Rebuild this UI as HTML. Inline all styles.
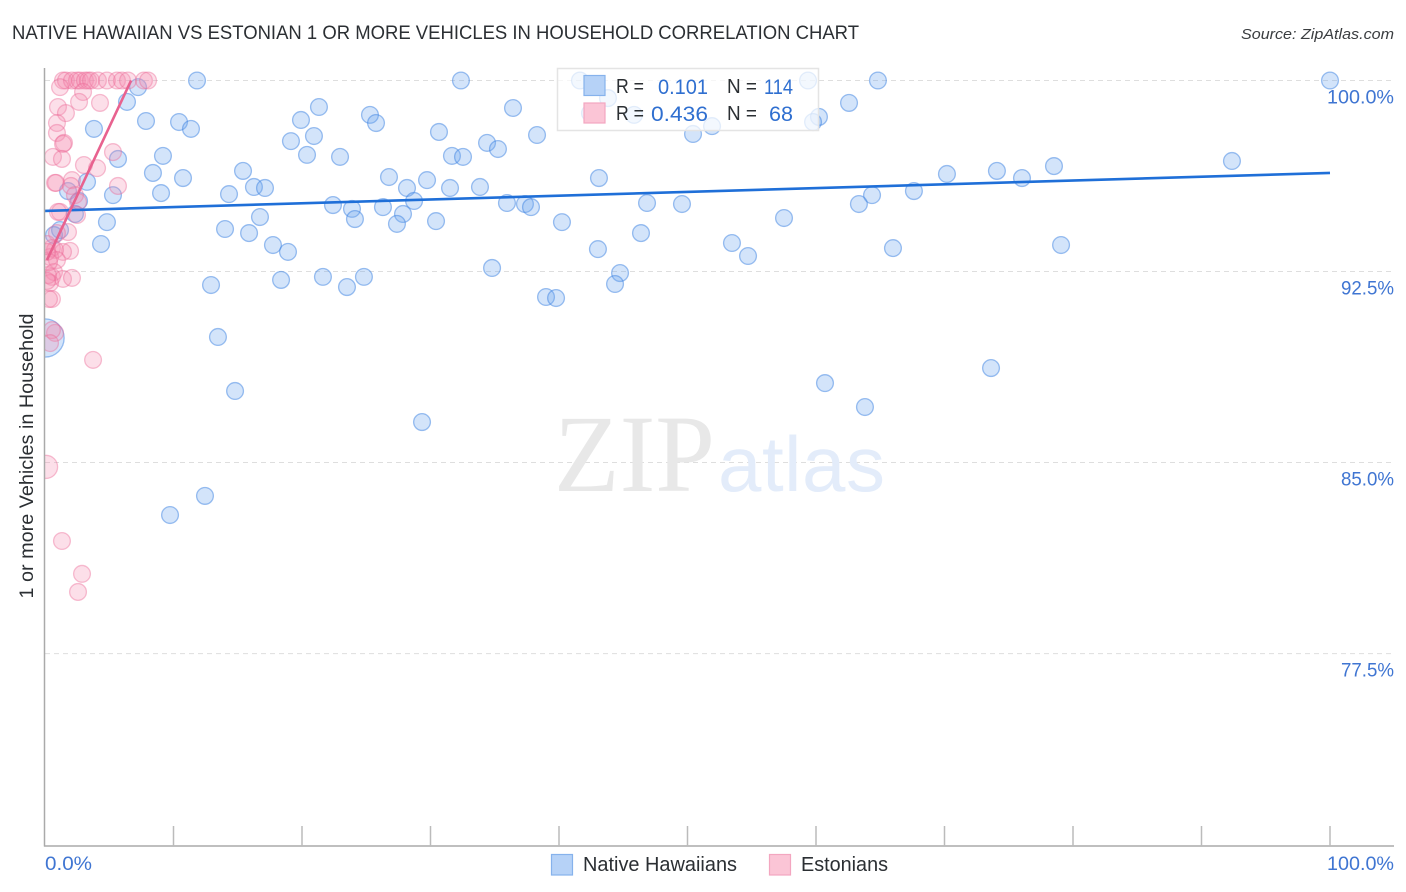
<!DOCTYPE html>
<html lang="en">
<head>
<meta charset="utf-8">
<title>Native Hawaiian vs Estonian correlation chart</title>
<style>
html,body{margin:0;padding:0;background:#fff;}
svg{display:block;font-family:"Liberation Sans",sans-serif;}
</style>
</head>
<body>
<svg id="chart" width="1406" height="892" viewBox="0 0 1406 892" xmlns="http://www.w3.org/2000/svg">
  <defs><clipPath id="plot-clip"><rect x="45" y="60" width="1349" height="786"/></clipPath></defs>
  <rect x="0" y="0" width="1406" height="892" fill="#fff"/>
  <text x="12" y="39" font-size="19" fill="#2b2f33" textLength="847" lengthAdjust="spacingAndGlyphs">NATIVE HAWAIIAN VS ESTONIAN 1 OR MORE VEHICLES IN HOUSEHOLD CORRELATION CHART</text>
  <text x="1241" y="39" font-size="15" font-style="italic" fill="#3a3d40" textLength="153" lengthAdjust="spacingAndGlyphs">Source: ZipAtlas.com</text>
  <g id="grid"></g>
  <g>
    <text x="554" y="491" font-family="'Liberation Serif',serif" font-size="110" fill="#e8e8e8" textLength="161" lengthAdjust="spacingAndGlyphs">ZIP</text>
    <text x="718" y="491" font-family="'Liberation Sans',sans-serif" font-size="78" fill="#e3ecfa" textLength="167" lengthAdjust="spacing">atlas</text>
  </g>
  <g id="points" clip-path="url(#plot-clip)"></g>
  <g id="trends"></g>
  <g id="axes"></g>
  <text x="0" y="0" transform="translate(33,456) rotate(-90)" font-size="19" fill="#2b2f33" text-anchor="middle" textLength="285" lengthAdjust="spacingAndGlyphs">1 or more Vehicles in Household</text>
  <g>
    <rect x="557.5" y="68.5" width="261" height="62" fill="#fff" fill-opacity="0.72" stroke="#e4e4e4" stroke-width="1.5"/>
    <rect x="584" y="75.5" width="21" height="20" fill="#b6d2f7" stroke="#86b2ec" stroke-width="1.2"/>
    <rect x="584" y="103" width="21" height="20" fill="#fbc5d6" stroke="#f3a6c0" stroke-width="1.2"/>
    <g font-size="20" fill="#2b2f33">
      <text x="616" y="93" textLength="28" lengthAdjust="spacingAndGlyphs">R =</text>
      <text x="727" y="93" textLength="30" lengthAdjust="spacingAndGlyphs">N =</text>
      <text x="616" y="120" textLength="28" lengthAdjust="spacingAndGlyphs">R =</text>
      <text x="727" y="120" textLength="30" lengthAdjust="spacingAndGlyphs">N =</text>
    </g>
    <g font-size="21.5" fill="#2f6fd0">
      <text x="658" y="94" textLength="50" lengthAdjust="spacingAndGlyphs">0.101</text>
      <text x="764" y="94" textLength="29" lengthAdjust="spacingAndGlyphs">114</text>
      <text x="651" y="121" textLength="57" lengthAdjust="spacingAndGlyphs">0.436</text>
      <text x="769" y="121" textLength="24" lengthAdjust="spacingAndGlyphs">68</text>
    </g>
  </g>
  <g>
    <rect x="551.5" y="854.5" width="21" height="20.5" fill="#b6d2f7" stroke="#86b2ec" stroke-width="1.2"/>
    <text x="583" y="871" font-size="20" fill="#2b2f33" textLength="154" lengthAdjust="spacingAndGlyphs">Native Hawaiians</text>
    <rect x="769.5" y="854.5" width="21" height="20.5" fill="#fbc5d6" stroke="#f3a6c0" stroke-width="1.2"/>
    <text x="801" y="871" font-size="20" fill="#2b2f33" textLength="87" lengthAdjust="spacingAndGlyphs">Estonians</text>
  </g>
</svg>
<script>
const yTickValues = [100, 92.5, 85, 77.5];
const yTickLabels = ["100.0%", "92.5%", "85.0%", "77.5%"];
const xTickValues = [10, 20, 30, 40, 50, 60, 70, 80, 90, 100];
const xEndLabels = ["0.0%", "100.0%"];

const nativeX = [11.83,32.37,41.63,59.38,64.82,100,7.24,6.38,43.81,21.32,36.42,62.57,7.86,10.43,19.92,25.29,25.76,60.23,59.77,45.84,42.41,51.91,3.81,11.36,30.66,50.43,20.93,38.29,19.14,34.40,35.25,20.39,9.18,22.96,31.67,32.53,5.68,92.37,78.52,15.41,74.08,8.40,70.19,26.77,10.74,43.11,76.03,29.73,3.27,16.26,17.12,28.17,31.52,33.85,1.79,14.32,9.03,5.29,67.62,64.36,2.65,35.95,22.41,26.30,23.89,28.72,37.35,37.82,46.85,49.57,63.34,2.33,16.73,24.12,27.86,27.39,30.43,4.82,40.23,57.51,14.01,15.88,1.17,46.38,4.36,17.74,18.91,43.03,53.46,54.71,65.99,79.07,0.70,34.79,44.75,21.63,24.82,18.37,23.50,12.92,44.36,38.99,39.77,13.46,60.70,14.79,73.62,63.81,29.34,12.45,9.73];
const nativeY = [100,100,100,100,100,100,99.74,99.16,99.31,98.96,98.92,99.12,98.41,98.37,98.45,98.65,98.33,98.57,98.37,98.65,98.72,98.21,98.10,98.10,97.98,97.90,97.82,97.86,97.62,97.55,97.31,97.08,97.04,97.00,97.04,97.00,96.92,96.84,96.64,96.45,96.45,96.37,96.33,96.21,96.17,96.17,96.17,96.09,96.02,95.82,95.78,95.78,95.78,95.82,95.66,95.54,95.58,95.50,95.66,95.50,95.27,95.19,95.11,95.03,94.96,95.27,95.15,95.03,95.19,95.15,95.15,94.76,94.64,94.56,94.76,94.37,94.48,94.44,94.44,94.60,94.17,94.01,94.13,94.01,93.58,93.54,93.27,93.38,93.62,93.11,93.42,93.54,93.93,92.64,92.44,92.29,92.29,92.17,91.89,91.97,92.01,91.50,91.46,89.93,88.12,87.81,88.71,87.18,86.59,83.69,82.94];
const nativeLargeX = [0];
const nativeLargeY = [89.89];
const nativeLargeWeight = [5.2];

const estonianX = [1.40,1.63,2.10,2.49,2.72,3.11,3.35,3.58,4.12,4.82,5.60,5.99,6.46,7.70,8.02,1.17,2.96,2.65,4.28,1.01,1.63,0.93,0.93,1.48,1.40,0.62,1.32,5.29,3.03,4.05,0.78,0.86,2.10,2.02,5.68,2.33,2.57,1.17,1.01,2.49,1.79,0.93,0.54,1.95,1.40,0.78,0.39,0.93,0.54,0.70,1.40,2.10,0.39,0.54,0.31,0.78,0.54,0.39,3.74,1.32,2.88,2.57,0.16,0.16,0.31,0.23,0.16];
const estonianY = [100,100,100,100,100,100,100,100,100,100,100,100,100,100,100,99.74,99.55,99.16,99.12,98.96,98.72,98.33,97.94,97.55,97.51,97.00,96.92,97.19,96.68,96.56,95.98,95.98,96.09,95.86,95.86,95.50,95.23,94.84,94.84,94.72,94.05,94.01,93.42,93.31,93.27,93.35,93.07,92.95,92.29,92.48,92.21,92.25,92.05,91.42,91.42,90.09,90.20,89.69,89.03,81.92,80.63,79.92,93.58,93.27,92.87,92.36,92.13];
const estonianLargeX = [0.08];
const estonianLargeY = [84.83];
const estonianLargeWeight = [1.9];

const nativeTrendX = [0, 100];
const nativeTrendY = [94.88, 96.37];
const estonianTrendX = [0.15, 6.7];
const estonianTrendY = [92.95, 100];

const NS = "http://www.w3.org/2000/svg";
function xScale(v){ return 45 + v * 12.85; }
function yScale(v){ return 80.5 + (100 - v) * 25.47; }
function rScale(w){ return 8.4 * Math.sqrt(w); }
function make(tag, attrs, parent){
  const el = document.createElementNS(NS, tag);
  for (const k in attrs) el.setAttribute(k, attrs[k]);
  parent.appendChild(el);
  return el;
}
const gridG = document.getElementById("grid");
const axesG = document.getElementById("axes");
const pointsG = document.getElementById("points");
const trendsG = document.getElementById("trends");

yTickValues.forEach(function(v, i){
  const line = make("line", {x1:45, x2:1394, y1:yScale(v), y2:yScale(v), stroke:"#dedede", "stroke-width":1, "stroke-dasharray":"5 4"}, gridG);
  
  
  const labelWidth = yTickLabels[i].length === 6 ? 67 : 53;
  const t = make("text", {x:1394 - labelWidth, y:yScale(v) + 23, "font-size":19, fill:"#3f75d2", textLength:labelWidth, lengthAdjust:"spacingAndGlyphs"}, axesG);
  t.textContent = yTickLabels[i];
  
  
});

const yAxis = make("line", {x1:44.5, x2:44.5, y1:68, y2:846.5, stroke:"#aaa", "stroke-width":1.5}, axesG);


const xAxis = make("line", {x1:44, x2:1394, y1:846, y2:846, stroke:"#aaa", "stroke-width":1.5}, axesG);



xTickValues.forEach(function(v){
  const tick = make("line", {x1:xScale(v), x2:xScale(v), y1:826, y2:846, stroke:"#bbb", "stroke-width":1.5}, axesG);
  
  
});

const xStart = make("text", {x:45, y:870, "font-size":19, fill:"#3f75d2", textLength:47, lengthAdjust:"spacingAndGlyphs"}, axesG);
xStart.textContent = xEndLabels[0];


const xEnd = make("text", {x:1327, y:870, "font-size":19, fill:"#3f75d2", textLength:67, lengthAdjust:"spacingAndGlyphs"}, axesG);
xEnd.textContent = xEndLabels[1];



const nativeStyle = {fill:"rgba(110,165,240,0.3)", stroke:"rgba(60,130,225,0.5)", "stroke-width":1.3};
const estonianStyle = {fill:"rgba(245,140,175,0.28)", stroke:"rgba(235,105,150,0.42)", "stroke-width":1.3};

function drawDot(x, y, r, style, name){
  const c = make("circle", Object.assign({cx:xScale(x), cy:yScale(y), r:r}, style), pointsG);
  
  
}
nativeX.forEach(function(x, i){ drawDot(x, nativeY[i], rScale(1), nativeStyle, 'native-hawaiian-point'); });
nativeLargeX.forEach(function(x, i){ drawDot(x, nativeLargeY[i], rScale(nativeLargeWeight[i]), nativeStyle, 'native-hawaiian-large-point'); });
estonianX.forEach(function(x, i){ drawDot(x, estonianY[i], rScale(1), estonianStyle, 'estonian-point'); });
estonianLargeX.forEach(function(x, i){ drawDot(x, estonianLargeY[i], rScale(estonianLargeWeight[i]), estonianStyle, 'estonian-large-point'); });

const nativeLine = make("line", {x1:xScale(nativeTrendX[0]), y1:yScale(nativeTrendY[0]), x2:xScale(nativeTrendX[1]), y2:yScale(nativeTrendY[1]), stroke:"#1f6fd8", "stroke-width":2.6}, trendsG);


const estonianLine = make("line", {x1:xScale(estonianTrendX[0]), y1:yScale(estonianTrendY[0]), x2:xScale(estonianTrendX[1]), y2:yScale(estonianTrendY[1]), stroke:"#e8628f", "stroke-width":2.6}, trendsG);


</script>
</body>
</html>
